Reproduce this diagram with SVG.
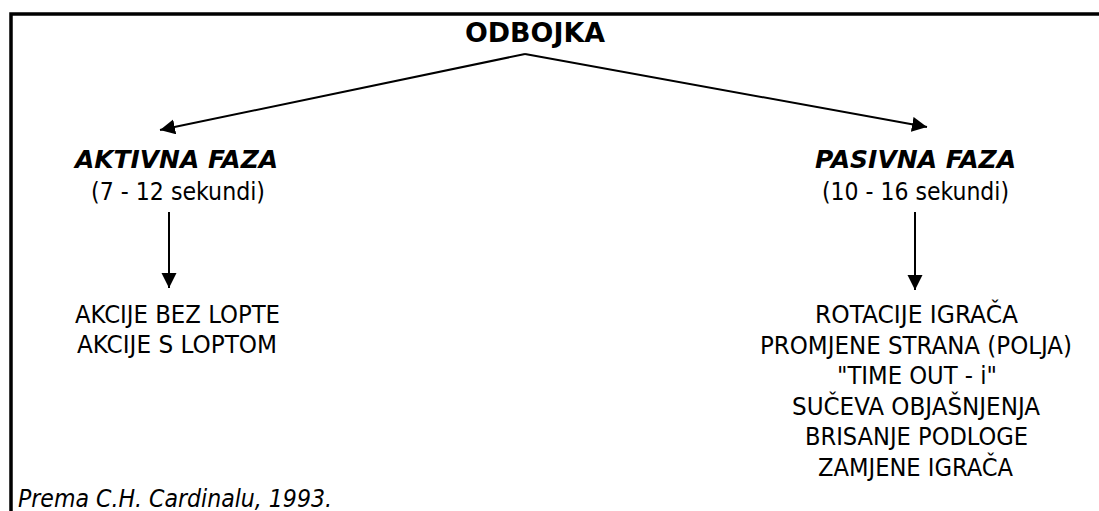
<svg xmlns="http://www.w3.org/2000/svg" width="1099" height="511" viewBox="0 0 1099 511">
<defs>
<style>
text{font-family:"DejaVu Sans Condensed","DejaVu Sans",sans-serif;font-stretch:condensed;fill:#000;text-anchor:middle;font-size:24.5px}
.title{font-weight:bold;font-size:27px}
.phase{font-weight:bold;font-style:italic}
.foot{font-style:italic;text-anchor:start;font-size:24px}
.conn line{stroke:#000;stroke-width:2;marker-end:url(#ah)}
</style>
<marker id="ah" markerUnits="userSpaceOnUse" markerWidth="16" markerHeight="16" refX="15" refY="7.5" orient="auto" viewBox="0 0 16 16">
<path d="M0,0 L15,7.5 L0,15 z" fill="#000"/>
</marker>
</defs>
<rect width="1099" height="511" fill="#fff"/>
<path d="M11,511 L11,14 L1099,14" fill="none" stroke="#000" stroke-width="3.5"/>
<g id="odbojka"><text class="title" x="535" y="42" textLength="140" lengthAdjust="spacingAndGlyphs">ODBOJKA</text></g>
<g id="aktivna"><text class="phase" x="176.5" y="168" textLength="203" lengthAdjust="spacingAndGlyphs">AKTIVNA FAZA</text><text x="178" y="200" textLength="174" lengthAdjust="spacingAndGlyphs">(7 - 12 sekundi)</text></g>
<g id="pasivna"><text class="phase" x="915.5" y="168" textLength="201" lengthAdjust="spacingAndGlyphs">PASIVNA FAZA</text><text x="915.5" y="200" textLength="187" lengthAdjust="spacingAndGlyphs">(10 - 16 sekundi)</text></g>
<g id="akcije"><text x="177.5" y="323" textLength="205" lengthAdjust="spacingAndGlyphs">AKCIJE BEZ LOPTE</text><text x="177" y="353" textLength="200" lengthAdjust="spacingAndGlyphs">AKCIJE S LOPTOM</text></g>
<g id="pasivna-list">
<text x="916.5" y="323" textLength="203" lengthAdjust="spacingAndGlyphs">ROTACIJE IGRAČA</text>
<text x="916" y="353.6" textLength="312" lengthAdjust="spacingAndGlyphs">PROMJENE STRANA (POLJA)</text>
<text x="917" y="384.2" textLength="160" lengthAdjust="spacingAndGlyphs">"TIME OUT - i"</text>
<text x="916" y="414.8" textLength="248" lengthAdjust="spacingAndGlyphs">SUČEVA OBJAŠNJENJA</text>
<text x="916.5" y="445.4" textLength="223" lengthAdjust="spacingAndGlyphs">BRISANJE PODLOGE</text>
<text x="915.5" y="476" textLength="195" lengthAdjust="spacingAndGlyphs">ZAMJENE IGRAČA</text>
</g>
<g id="source"><text class="foot" x="18" y="507" textLength="314" lengthAdjust="spacingAndGlyphs">Prema C.H. Cardinalu, 1993.</text></g>
<g id="connectors" class="conn">
<line x1="525" y1="54" x2="160" y2="130"/>
<line x1="525" y1="54" x2="927" y2="127"/>
<line x1="169" y1="212" x2="169" y2="288"/>
<line x1="915" y1="212" x2="915" y2="290"/>
</g>
</svg>
